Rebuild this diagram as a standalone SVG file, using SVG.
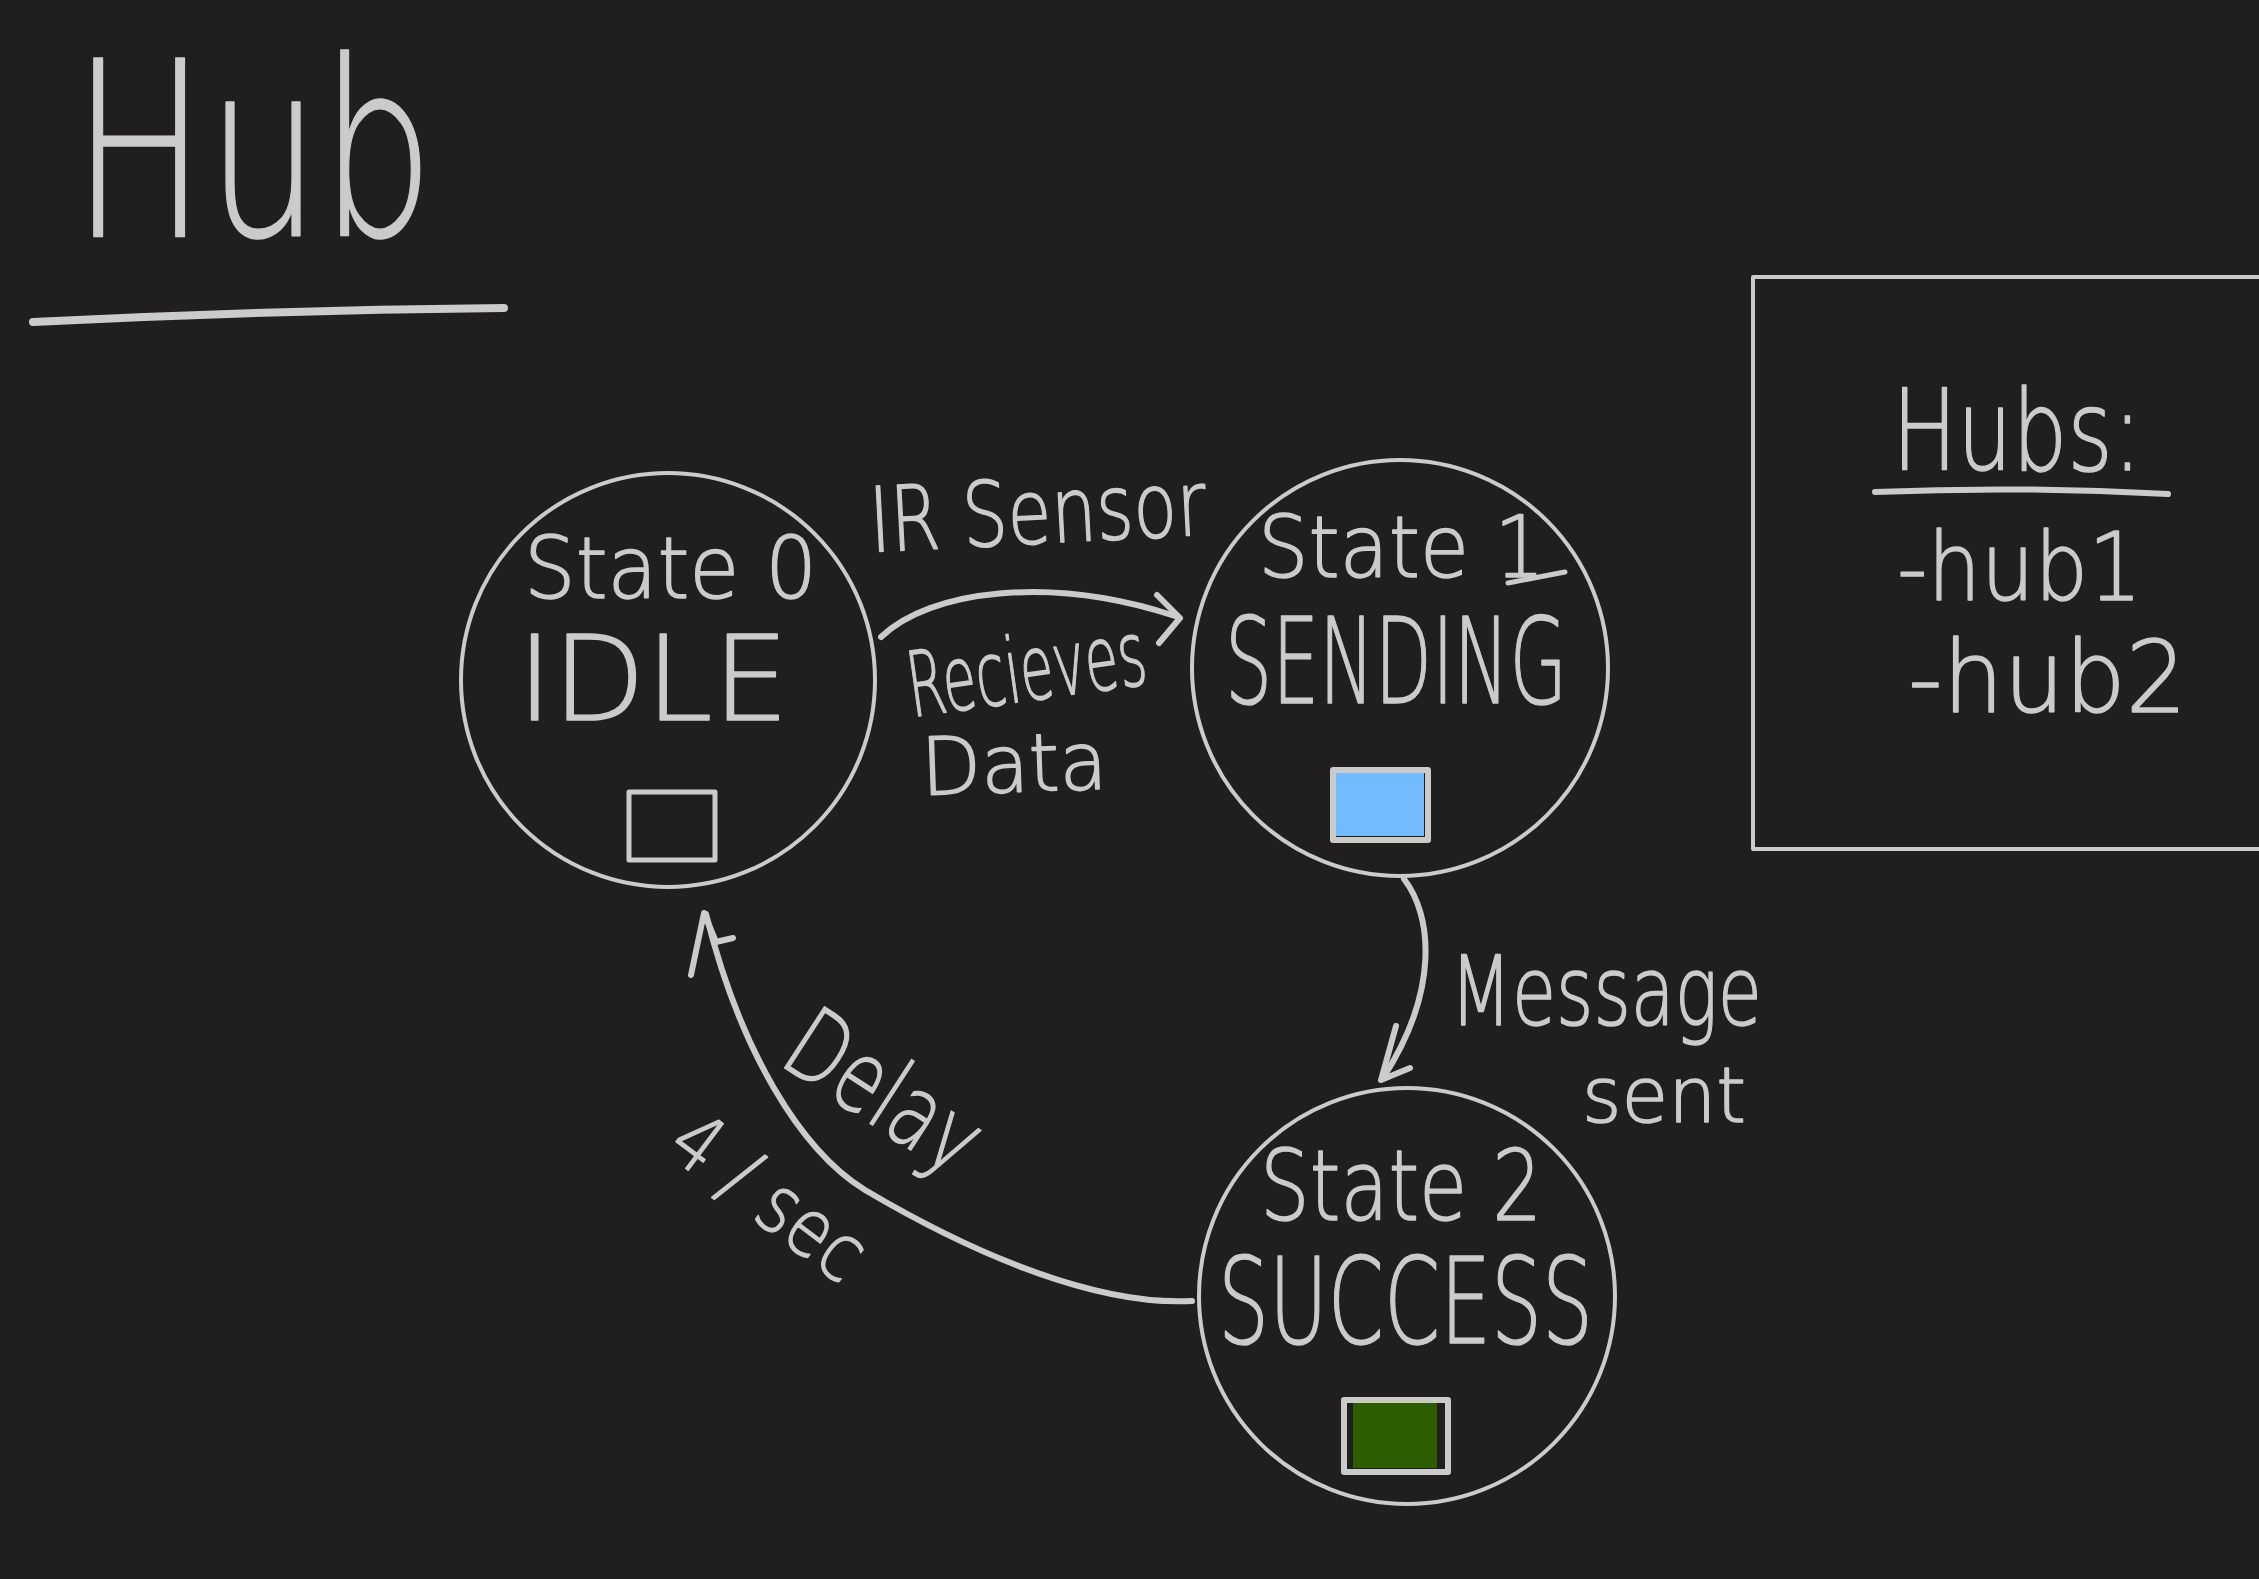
<svg xmlns="http://www.w3.org/2000/svg" width="2259" height="1579" viewBox="0 0 2259 1579">
<style>
.bg{fill:#201f1e}
.ln{fill:none;stroke:#cbcbc9;stroke-linecap:round;stroke-linejoin:round}
.c{stroke-width:4}
.a{stroke-width:6}
.t{font-family:'DejaVu Sans','Open Sans',sans-serif;font-weight:200;fill:#cbcbc9;stroke:#cbcbc9;stroke-width:1.5;stroke-linejoin:round}
</style>
<rect class="bg" x="0" y="0" width="2259" height="1579"/>
<g id="title">
<text class="t" x="72" y="236" font-size="245" textLength="362" lengthAdjust="spacingAndGlyphs">Hub</text>
<path class="ln" d="M33 322 Q270 310 504 308" stroke-width="8"/>
</g>
<g id="connectors">
<path class="ln a" d="M881 637 C930 590 1050 575 1175 616"/>
<path class="ln a" d="M1157 595 L1180 618 L1159 643"/>
<path class="ln a" d="M1404 879 C1432 915 1440 990 1383 1078"/>
<path class="ln a" d="M1396 1026 L1381 1080 L1410 1068"/>
<path class="ln a" d="M1192 1301 C1100 1306 980 1258 865 1190 C800 1150 740 1050 706 914"/>
<path class="ln a" d="M691 975 L704 913 L716 942 L733 938"/>
<text class="t" x="871" y="552" font-size="90" textLength="337" lengthAdjust="spacingAndGlyphs" transform="rotate(-3 871 552)">IR Sensor</text>
<text class="t" x="912" y="717" font-size="90" textLength="240" lengthAdjust="spacingAndGlyphs" transform="rotate(-8 912 717)">Recieves</text>
<text class="t" x="922" y="795" font-size="80" textLength="186" lengthAdjust="spacingAndGlyphs" transform="rotate(-2 922 795)">Data</text>
<text class="t" x="1450" y="1025" font-size="96" textLength="312" lengthAdjust="spacingAndGlyphs">Message</text>
<text class="t" x="1582" y="1122" font-size="76" textLength="164" lengthAdjust="spacingAndGlyphs">sent</text>
<text class="t" x="777" y="1063" font-size="100" textLength="212" lengthAdjust="spacingAndGlyphs" transform="rotate(33 777 1063)">Delay</text>
<text class="t" x="664" y="1152" font-size="80" textLength="222" lengthAdjust="spacingAndGlyphs" transform="rotate(37 664 1152)">4 / sec</text>
</g>
<g id="state0">
<circle class="ln c" cx="668" cy="680" r="207"/>
<text class="t" x="524" y="598" font-size="85" textLength="293" lengthAdjust="spacingAndGlyphs">State 0</text>
<text class="t" x="517" y="720" font-size="117" textLength="272" lengthAdjust="spacingAndGlyphs">IDLE</text>
<rect class="ln" x="629" y="792" width="86" height="68" stroke-width="5"/>
</g>
<g id="state1">
<circle class="ln c" cx="1400" cy="668" r="208"/>
<text class="t" x="1258" y="577" font-size="85" textLength="287" lengthAdjust="spacingAndGlyphs">State 1</text>
<path class="ln" d="M1508 583 L1565 572" stroke-width="5"/>
<text class="t" x="1225" y="703" font-size="120" textLength="342" lengthAdjust="spacingAndGlyphs">SENDING</text>
<rect x="1336" y="772" width="88" height="64" fill="#72bbff"/>
<rect class="ln" x="1333" y="770" width="95" height="70" stroke-width="6"/>
</g>
<g id="state2">
<circle class="ln c" cx="1407" cy="1296" r="208"/>
<text class="t" x="1260" y="1220" font-size="98" textLength="282" lengthAdjust="spacingAndGlyphs">State 2</text>
<text class="t" x="1218" y="1343" font-size="120" textLength="375" lengthAdjust="spacingAndGlyphs">SUCCESS</text>
<rect x="1353" y="1403" width="84" height="65" fill="#2e5c00"/>
<rect class="ln" x="1344" y="1400" width="104" height="72" stroke-width="6"/>
</g>
<g id="legend">
<rect class="ln c" x="1753" y="277" width="530" height="572"/>
<text class="t" x="1892" y="470" font-size="112" textLength="250" lengthAdjust="spacingAndGlyphs">Hubs:</text>
<path class="ln" d="M1875 492 Q2020 486 2168 494" stroke-width="6"/>
<text class="t" x="1897" y="600" font-size="95" textLength="245" lengthAdjust="spacingAndGlyphs">-hub1</text>
<text class="t" x="1908" y="712" font-size="100" textLength="279" lengthAdjust="spacingAndGlyphs">-hub2</text>
</g>
</svg>
